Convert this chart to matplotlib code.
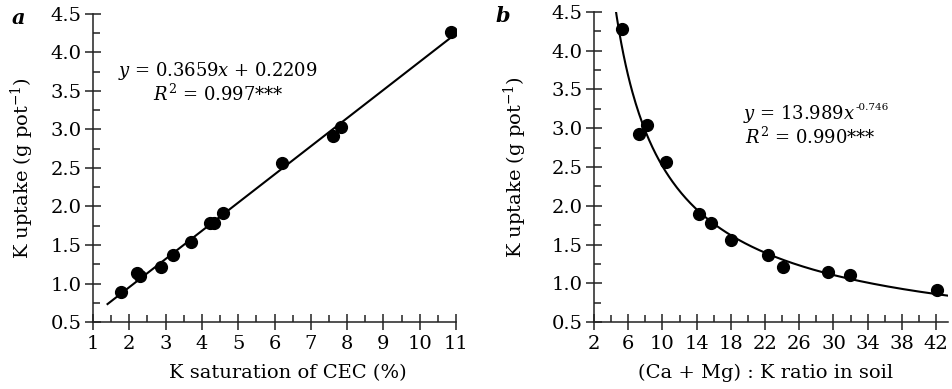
import numpy as np
import matplotlib.pyplot as plt
from matplotlib.ticker import MultipleLocator, FormatStrFormatter

plt.rcParams['font.family'] = 'DejaVu Serif'
plt.rcParams['mathtext.fontset'] = 'dejavuserif'

# Panel a: K saturation of CEC (%) vs K uptake
sat_cec = [1.77, 2.22, 2.30, 2.88, 3.21, 3.71, 4.22, 4.33, 4.58, 6.21, 7.61, 7.82, 10.87]
uptake_a = [0.89, 1.14, 1.10, 1.22, 1.37, 1.54, 1.78, 1.78, 1.91, 2.57, 2.92, 3.03, 4.27]

# Panel b: (Ca + Mg) : K ratio vs K uptake
camg_ratio = [5.31, 7.26, 8.19, 10.45, 14.31, 15.67, 18.05, 22.37, 24.12, 29.38, 31.91, 42.16]
uptake_b = [4.28, 2.93, 3.04, 2.56, 1.90, 1.78, 1.56, 1.36, 1.21, 1.14, 1.11, 0.91]

# fitted models as printed on the chart
lin_slope, lin_icpt = 0.3659, 0.2209
pow_coef, pow_exp = 13.989, -0.746

fig = plt.figure(figsize=(9.53, 3.89), dpi=100)
ax_a = fig.add_axes([0.0976, 0.1722, 0.381, 0.792])
ax_b = fig.add_axes([0.6233, 0.1722, 0.3715, 0.797])

def style_axes(ax, xmaj, xmin):
    for side in ['top', 'right']:
        ax.spines[side].set_visible(False)
    for side in ['left', 'bottom']:
        ax.spines[side].set_linewidth(1.1)
        ax.spines[side].set_color('#222222')
    ax.set_ylim(0.5, 4.5)
    ax.yaxis.set_major_locator(MultipleLocator(0.5))
    ax.yaxis.set_minor_locator(MultipleLocator(0.25))
    ax.yaxis.set_major_formatter(FormatStrFormatter('%.1f'))
    ax.xaxis.set_major_locator(MultipleLocator(xmaj))
    ax.xaxis.set_minor_locator(MultipleLocator(xmin))
    ax.tick_params(which='major', direction='inout', length=12, width=1.1,
                   color='#222222', labelsize=14)
    ax.tick_params(which='minor', direction='in', length=5, width=1.1, color='#222222')
    ax.tick_params(axis='y', which='major', pad=2)
    ax.tick_params(axis='x', which='major', pad=3)
    ax.set_ylabel('K uptake (g pot$^{-1}$)', fontsize=14)

# ---- panel a
style_axes(ax_a, 1, 0.5)
ax_a.set_xlim(1, 11)
xs = np.linspace(1.4, 10.9, 50)
ax_a.plot(xs, lin_slope * xs + lin_icpt, color='black', lw=1.5, zorder=2)
ax_a.plot(sat_cec, uptake_a, 'o', color='black', ms=8.5, zorder=3)
ax_a.set_xlabel('K saturation of CEC (%)', fontsize=14)
ax_a.xaxis.set_label_coords(0.536, -0.135)
ax_a.yaxis.set_label_coords(-0.158, 0.5)
ax_a.text(0.345, 0.815, '$y$ = 0.3659$x$ + 0.2209', transform=ax_a.transAxes,
          ha='center', va='center', fontsize=13)
ax_a.text(0.345, 0.74, '$R^2$ = 0.997***', transform=ax_a.transAxes,
          ha='center', va='center', fontsize=13)
fig.text(0.019, 0.955, 'a', fontsize=15, fontweight='bold', fontstyle='italic',
         ha='center', va='center')

# ---- panel b
style_axes(ax_b, 4, 2)
ax_b.set_xlim(2, 43.4)
ax_b.set_xticks(np.arange(2, 43, 4))
xc = np.linspace(4.4, 43.4, 300)
ax_b.plot(xc, pow_coef * xc ** pow_exp, color='black', lw=1.5, zorder=2)
ax_b.plot(camg_ratio, uptake_b, 'o', color='black', ms=8.5, zorder=3)
ax_b.set_xlabel('(Ca + Mg) : K ratio in soil', fontsize=14)
ax_b.xaxis.set_label_coords(0.485, -0.135)
ax_b.yaxis.set_label_coords(-0.184, 0.5)
eq_b = ax_b.text(0.58, 0.67, '$y$ = 13.989$x$', transform=ax_b.transAxes,
                 ha='center', va='center', fontsize=13)
ax_b.annotate('-0.746', xy=(1.0, 0.62), xycoords=eq_b, ha='left', va='bottom',
              fontsize=7.5)
ax_b.text(0.61, 0.595, '$R^2$ = 0.990***', transform=ax_b.transAxes,
          ha='center', va='center', fontsize=13)
fig.text(0.528, 0.96, 'b', fontsize=15, fontweight='bold', fontstyle='italic',
         ha='center', va='center')

fig.savefig('out.png', dpi=100)
